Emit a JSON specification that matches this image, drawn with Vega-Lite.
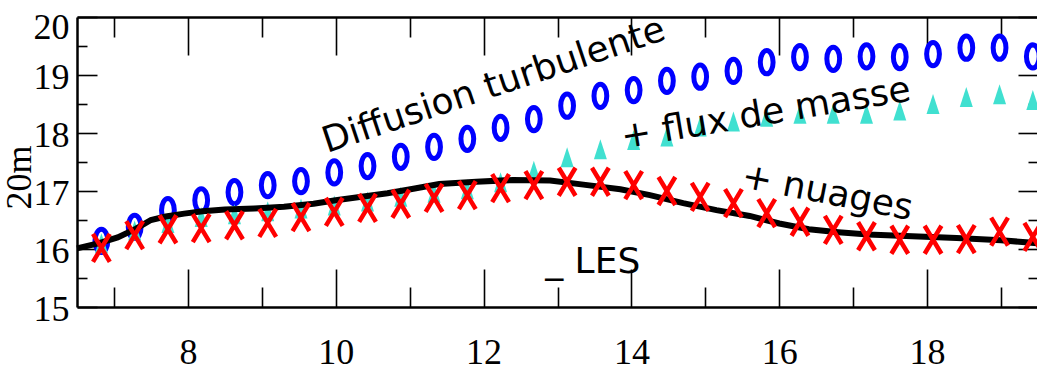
{
  "$schema": "https://vega.github.io/schema/vega-lite/v6.json",
  "width": 961,
  "height": 290,
  "autosize": {"type": "none"},
  "padding": {"left": 77, "top": 17, "right": 0, "bottom": 64},
  "background": "white",
  "config": {
    "view": {"stroke": null},
    "axis": {"grid": false, "domainColor": "#000000", "domainWidth": 2.5, "tickColor": "#000000", "tickWidth": 1.6, "labelColor": "#000000", "labelFont": "Liberation Serif", "labelFontSize": 36, "titleColor": "#000000", "titleFont": "Liberation Serif", "titleFontSize": 36}
  },
  "datasets": {
    "pts": [
      {"x": 6.83, "diff": 16.14, "flux": 16.10, "nuages": 16.02},
      {"x": 7.28, "diff": 16.38, "flux": 16.32, "nuages": 16.24},
      {"x": 7.73, "diff": 16.67, "flux": 16.45, "nuages": 16.34},
      {"x": 8.18, "diff": 16.84, "flux": 16.55, "nuages": 16.36},
      {"x": 8.63, "diff": 16.98, "flux": 16.60, "nuages": 16.41},
      {"x": 9.08, "diff": 17.10, "flux": 16.65, "nuages": 16.45},
      {"x": 9.53, "diff": 17.17, "flux": 16.70, "nuages": 16.55},
      {"x": 9.98, "diff": 17.32, "flux": 16.75, "nuages": 16.64},
      {"x": 10.43, "diff": 17.43, "flux": 16.82, "nuages": 16.71},
      {"x": 10.88, "diff": 17.59, "flux": 16.90, "nuages": 16.78},
      {"x": 11.33, "diff": 17.76, "flux": 16.97, "nuages": 16.88},
      {"x": 11.78, "diff": 17.90, "flux": 17.03, "nuages": 16.93},
      {"x": 12.23, "diff": 18.09, "flux": 17.15, "nuages": 17.05},
      {"x": 12.68, "diff": 18.24, "flux": 17.35, "nuages": 17.10},
      {"x": 13.13, "diff": 18.47, "flux": 17.58, "nuages": 17.16},
      {"x": 13.58, "diff": 18.64, "flux": 17.72, "nuages": 17.16},
      {"x": 14.03, "diff": 18.74, "flux": 17.88, "nuages": 17.10},
      {"x": 14.48, "diff": 18.90, "flux": 17.94, "nuages": 17.00},
      {"x": 14.93, "diff": 18.97, "flux": 18.11, "nuages": 16.90},
      {"x": 15.38, "diff": 19.07, "flux": 18.20, "nuages": 16.79},
      {"x": 15.83, "diff": 19.22, "flux": 18.28, "nuages": 16.62},
      {"x": 16.28, "diff": 19.31, "flux": 18.33, "nuages": 16.47},
      {"x": 16.73, "diff": 19.28, "flux": 18.33, "nuages": 16.33},
      {"x": 17.18, "diff": 19.32, "flux": 18.33, "nuages": 16.22},
      {"x": 17.63, "diff": 19.31, "flux": 18.39, "nuages": 16.16},
      {"x": 18.08, "diff": 19.36, "flux": 18.50, "nuages": 16.16},
      {"x": 18.53, "diff": 19.47, "flux": 18.62, "nuages": 16.17},
      {"x": 18.98, "diff": 19.47, "flux": 18.67, "nuages": 16.30},
      {"x": 19.43, "diff": 19.32, "flux": 18.57, "nuages": 16.21}
    ],
    "les": [
      {"x": 6.50, "les": 16.01},
      {"x": 6.80, "les": 16.10},
      {"x": 7.05, "les": 16.20},
      {"x": 7.30, "les": 16.35},
      {"x": 7.50, "les": 16.50},
      {"x": 7.70, "les": 16.56},
      {"x": 7.95, "les": 16.61},
      {"x": 8.20, "les": 16.65},
      {"x": 8.50, "les": 16.68},
      {"x": 8.90, "les": 16.70},
      {"x": 9.30, "les": 16.73},
      {"x": 9.70, "les": 16.78},
      {"x": 10.00, "les": 16.84},
      {"x": 10.35, "les": 16.90},
      {"x": 10.70, "les": 16.96},
      {"x": 11.05, "les": 17.04},
      {"x": 11.40, "les": 17.12},
      {"x": 11.90, "les": 17.16},
      {"x": 12.40, "les": 17.19},
      {"x": 12.90, "les": 17.18},
      {"x": 13.35, "les": 17.11},
      {"x": 13.85, "les": 17.03},
      {"x": 14.25, "les": 16.93},
      {"x": 14.70, "les": 16.79},
      {"x": 15.15, "les": 16.67},
      {"x": 15.60, "les": 16.57},
      {"x": 16.00, "les": 16.44},
      {"x": 16.40, "les": 16.34},
      {"x": 16.80, "les": 16.29},
      {"x": 17.20, "les": 16.25},
      {"x": 17.80, "les": 16.22},
      {"x": 18.40, "les": 16.19},
      {"x": 19.00, "les": 16.15},
      {"x": 19.50, "les": 16.10}
    ],
    "notes": [
      {"x": 9.883, "y": 17.655, "label": "Diffusion turbulente"},
      {"x": 13.888, "y": 17.731, "label": "+ flux de masse"},
      {"x": 15.472, "y": 17.069, "label": "+ nuages"},
      {"x": 12.833, "y": 15.586, "label": "_ LES"}
    ]
  },
  "resolve": {"axis": {"x": "independent", "y": "independent"}},
  "layer": [
    {
      "data": {"name": "pts"},
      "mark": {"type": "point", "shape": "M0,-1A0.55,1 0 1,1 0,1A0.55,1 0 1,1 0,-1Z", "filled": false, "color": "#0000ff", "strokeWidth": 5, "size": 540, "opacity": 1},
      "encoding": {
        "x": {"field": "x", "type": "quantitative", "scale": {"domain": [6.5, 19.5], "nice": false, "zero": false},
          "axis": {"orient": "top", "values": [7, 8, 9, 10, 11, 12, 13, 14, 15, 16, 17, 18, 19], "labels": false, "title": null, "domainWidth": 2.5,
            "tickSize": {"condition": {"test": "datum.value % 2 === 0", "value": -38}, "value": -20}}},
        "y": {"field": "diff", "type": "quantitative", "scale": {"domain": [15, 20], "nice": false, "zero": false},
          "axis": {"orient": "right", "values": [15, 15.5, 16, 16.5, 17, 17.5, 18, 18.5, 19, 19.5, 20], "labels": false, "title": null,
            "tickSize": {"condition": {"test": "datum.value % 1 === 0", "value": -20}, "value": -10}}}
      }
    },
    {
      "data": {"name": "pts"},
      "mark": {"type": "point", "shape": "M0,-1L0.65,1L-0.65,1Z", "filled": true, "color": "#40e0d0", "size": 400, "opacity": 1},
      "encoding": {
        "x": {"field": "x", "type": "quantitative", "scale": {"domain": [6.5, 19.5], "nice": false, "zero": false}, "axis": null},
        "y": {"field": "flux", "type": "quantitative", "scale": {"domain": [15, 20], "nice": false, "zero": false}, "axis": null}
      }
    },
    {
      "data": {"name": "les"},
      "mark": {"type": "line", "color": "#000000", "strokeWidth": 6, "interpolate": "linear"},
      "encoding": {
        "x": {"field": "x", "type": "quantitative", "scale": {"domain": [6.5, 19.5], "nice": false, "zero": false},
          "axis": {"orient": "bottom", "values": [7, 8, 9, 10, 11, 12, 13, 14, 15, 16, 17, 18, 19], "title": null,
            "labelExpr": "datum.value % 2 === 0 ? '' + datum.value : ''", "labelPadding": 66, "labelBaseline": "top",
            "labelFont": "Liberation Serif", "labelFontSize": 36,
            "tickSize": {"condition": {"test": "datum.value % 2 === 0", "value": -38}, "value": -20}}},
        "y": {"field": "les", "type": "quantitative", "scale": {"domain": [15, 20], "nice": false, "zero": false},
          "axis": {"orient": "left", "values": [15, 15.5, 16, 16.5, 17, 17.5, 18, 18.5, 19, 19.5, 20], "title": "20m",
            "labelExpr": "datum.value % 1 === 0 ? '' + datum.value : ''", "labelPadding": 28,
            "labelFont": "Liberation Serif", "labelFontSize": 36,
            "labelOffset": {"condition": {"test": "datum.value === 20", "value": 10}, "value": 2},
            "tickSize": {"condition": {"test": "datum.value % 1 === 0", "value": -20}, "value": -10},
            "titleFont": "Liberation Serif", "titleFontSize": 36, "titleFontWeight": "normal",
            "titleX": -58, "titleY": 160, "titleAngle": 270, "titleAlign": "center", "titleBaseline": "middle"}}
      }
    },
    {
      "data": {"name": "pts"},
      "mark": {"type": "point", "shape": "M-0.6,-1L0.6,1M0.6,-1L-0.6,1", "filled": false, "color": "#ff0000", "strokeWidth": 4.5, "size": 784, "opacity": 1},
      "encoding": {
        "x": {"field": "x", "type": "quantitative", "scale": {"domain": [6.5, 19.5], "nice": false, "zero": false}, "axis": null},
        "y": {"field": "nuages", "type": "quantitative", "scale": {"domain": [15, 20], "nice": false, "zero": false}, "axis": null}
      }
    },
    {
      "data": {"name": "notes"},
      "transform": [{"filter": "datum.label === 'Diffusion turbulente'"}],
      "mark": {"type": "text", "font": "DejaVu Sans", "fontSize": 36, "color": "#000000", "align": "left", "baseline": "alphabetic", "angle": -18.5},
      "encoding": {
        "x": {"field": "x", "type": "quantitative", "scale": {"domain": [6.5, 19.5], "nice": false, "zero": false}, "axis": null},
        "y": {"field": "y", "type": "quantitative", "scale": {"domain": [15, 20], "nice": false, "zero": false}, "axis": null},
        "text": {"field": "label"}
      }
    },
    {
      "data": {"name": "notes"},
      "transform": [{"filter": "datum.label === '+ flux de masse'"}],
      "mark": {"type": "text", "font": "DejaVu Sans", "fontSize": 36, "color": "#000000", "align": "left", "baseline": "alphabetic", "angle": -9.5},
      "encoding": {
        "x": {"field": "x", "type": "quantitative", "scale": {"domain": [6.5, 19.5], "nice": false, "zero": false}, "axis": null},
        "y": {"field": "y", "type": "quantitative", "scale": {"domain": [15, 20], "nice": false, "zero": false}, "axis": null},
        "text": {"field": "label"}
      }
    },
    {
      "data": {"name": "notes"},
      "transform": [{"filter": "datum.label === '+ nuages'"}],
      "mark": {"type": "text", "font": "DejaVu Sans", "fontSize": 36, "color": "#000000", "align": "left", "baseline": "alphabetic", "angle": 11},
      "encoding": {
        "x": {"field": "x", "type": "quantitative", "scale": {"domain": [6.5, 19.5], "nice": false, "zero": false}, "axis": null},
        "y": {"field": "y", "type": "quantitative", "scale": {"domain": [15, 20], "nice": false, "zero": false}, "axis": null},
        "text": {"field": "label"}
      }
    },
    {
      "data": {"name": "notes"},
      "transform": [{"filter": "datum.label === '_ LES'"}],
      "mark": {"type": "text", "font": "DejaVu Sans", "fontSize": 36, "color": "#000000", "align": "left", "baseline": "alphabetic", "angle": 0},
      "encoding": {
        "x": {"field": "x", "type": "quantitative", "scale": {"domain": [6.5, 19.5], "nice": false, "zero": false}, "axis": null},
        "y": {"field": "y", "type": "quantitative", "scale": {"domain": [15, 20], "nice": false, "zero": false}, "axis": null},
        "text": {"field": "label"}
      }
    }
  ]
}
